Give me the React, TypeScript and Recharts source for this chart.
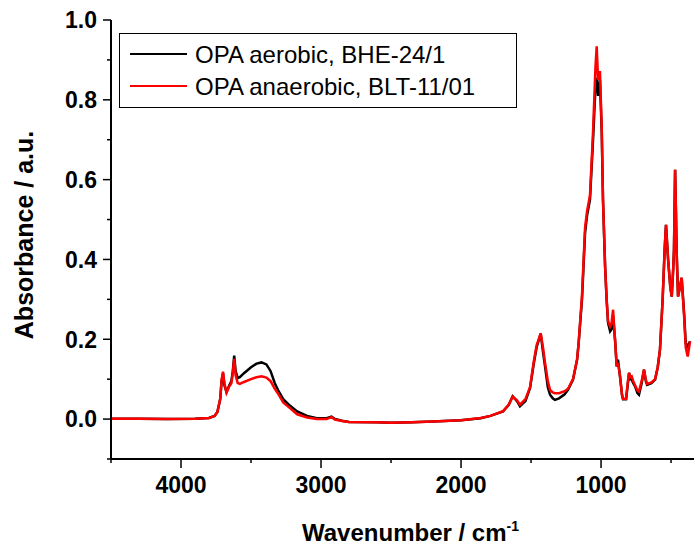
import React from 'react';
import { LineChart, Line, XAxis, YAxis, Legend } from 'recharts';

const wavenumbers = [
  4500, 4300, 4100, 3900, 3800, 3760, 3740, 3720, 3710, 3700, 3690, 3675, 3655, 3640, 3630, 3620, 3610, 3595, 3580,
  3550, 3500, 3460, 3425, 3390, 3360, 3330, 3300, 3270, 3230, 3170, 3100, 3030, 2960, 2925, 2900, 2850, 2800, 2600,
  2500, 2350, 2200, 2000, 1860, 1790, 1700, 1660, 1631, 1600, 1579, 1540, 1507, 1480, 1460, 1431, 1415, 1400, 1380,
  1364, 1345, 1329, 1300, 1260, 1236, 1200, 1171, 1160, 1136, 1114, 1100, 1079, 1057, 1040, 1031, 1021, 1008, 995,
  986, 971, 960, 950, 935, 925, 914, 905, 900, 888, 879, 864, 850, 843, 821, 808, 800, 790, 781, 770, 757, 740, 729,
  710, 693, 680, 671, 640, 614, 595, 579, 560, 545, 536, 521, 505, 495, 484, 479, 471, 465, 460, 450, 437, 424, 407,
  395, 381, 364,
];

const aerobic = [
  0.001, 0.001, 0.0, 0.001, 0.003, 0.008, 0.018, 0.05, 0.095, 0.115, 0.085, 0.068, 0.085, 0.095, 0.12, 0.159, 0.12, 0.103, 0.105,
  0.115, 0.13, 0.139, 0.142, 0.137, 0.12, 0.09, 0.068, 0.05, 0.036, 0.019, 0.008, 0.002, 0.002, 0.006, 0.0, -0.004, -0.007, -0.008,
  -0.009, -0.008, -0.006, -0.003, 0.002, 0.008, 0.019, 0.035, 0.057, 0.045, 0.032, 0.045, 0.078, 0.14, 0.18, 0.214, 0.17, 0.132, 0.08,
  0.061, 0.052, 0.048, 0.052, 0.062, 0.073, 0.099, 0.149, 0.19, 0.3, 0.467, 0.51, 0.55, 0.7, 0.83, 0.855, 0.81, 0.85, 0.72,
  0.55, 0.383, 0.3, 0.241, 0.22, 0.225, 0.26, 0.22, 0.199, 0.132, 0.149, 0.105, 0.06, 0.05, 0.05, 0.09, 0.116, 0.1, 0.099, 0.09, 0.082, 0.065, 0.061,
  0.09, 0.124, 0.095, 0.086, 0.09, 0.099, 0.13, 0.174, 0.3, 0.43, 0.487, 0.4, 0.33, 0.307, 0.38, 0.424, 0.625, 0.52, 0.42, 0.307, 0.33, 0.354, 0.266,
  0.19, 0.182, 0.195,
];

const anaerobic = [
  0.001, 0.001, 0.0, 0.001, 0.003, 0.008, 0.018, 0.05, 0.098, 0.119, 0.09, 0.066, 0.082, 0.09, 0.115, 0.151, 0.11, 0.09, 0.088,
  0.093, 0.1, 0.105, 0.107, 0.104, 0.095, 0.076, 0.06, 0.042, 0.03, 0.012, 0.004, 0.0, 0.0, 0.005, -0.001, -0.005, -0.007, -0.008,
  -0.009, -0.008, -0.006, -0.003, 0.003, 0.008, 0.02, 0.036, 0.056, 0.047, 0.036, 0.05, 0.08, 0.145, 0.185, 0.215, 0.18, 0.141, 0.095,
  0.073, 0.067, 0.065, 0.065, 0.07, 0.076, 0.1, 0.15, 0.19, 0.31, 0.48, 0.52, 0.56, 0.72, 0.88, 0.934, 0.85, 0.872, 0.73,
  0.55, 0.383, 0.3, 0.245, 0.232, 0.24, 0.274, 0.225, 0.199, 0.132, 0.141, 0.107, 0.06, 0.051, 0.051, 0.095, 0.116, 0.105, 0.107, 0.095, 0.085, 0.072, 0.069,
  0.095, 0.124, 0.098, 0.088, 0.092, 0.1, 0.13, 0.174, 0.3, 0.43, 0.487, 0.4, 0.33, 0.307, 0.38, 0.424, 0.625, 0.52, 0.42, 0.307, 0.33, 0.354, 0.26,
  0.18, 0.157, 0.195,
];

const seriesNames = ['OPA aerobic, BHE-24/1', 'OPA anaerobic, BLT-11/01'];
const seriesColors = ['#000000', '#ff0000'];
const xTicks = [4500, 4000, 3500, 3000, 2500, 2000, 1500, 1000, 500];
const yTicks = [-0.1, 0, 0.1, 0.2, 0.3, 0.4, 0.5, 0.6, 0.7, 0.8, 0.9, 1.0];
const xTitle = 'Wavenumber / cm';
const xTitleSup = '-1';
const yTitle = 'Absorbance / a.u.';

const data = wavenumbers.map((w, i) => ({ w, aerobic: aerobic[i], anaerobic: anaerobic[i] }));

const FONT = '"Liberation Sans", Arial, sans-serif';

const YTick = (props: any) => {
  const { x, y, payload } = props;
  const v = payload.value;
  const major = Math.round(v * 10) % 2 === 0;
  return (
    <g>
      <line x1={x} x2={x - (major ? 8 : 4)} y1={y} y2={y} stroke="#000" strokeWidth={1.5} />
      {major && (
        <text x={x - 14} y={y} dy="0.36em" textAnchor="end" fontSize={23} fontWeight="bold" fontFamily={FONT} fill="#000">
          {v.toFixed(1)}
        </text>
      )}
    </g>
  );
};

const XTick = (props: any) => {
  const { x, y, payload } = props;
  const v = payload.value;
  const major = v % 1000 === 0;
  return (
    <g>
      <line x1={x} x2={x} y1={y} y2={y + (major ? 9 : 4)} stroke="#000" strokeWidth={1.5} />
      {major && (
        <text x={x} y={y + 34} textAnchor="middle" fontSize={23} fontWeight="bold" fontFamily={FONT} fill="#000">
          {v}
        </text>
      )}
    </g>
  );
};

const TopTick = (props: any) => {
  const { x, y } = props;
  return <line x1={x} x2={x} y1={y} y2={y + 3} stroke="#000" strokeWidth={1} />;
};

const renderLegend = (props: any) => {
  const payload = props.payload || [];
  return (
    <svg width={398} height={75} style={{ display: 'block' }}>
      <rect x={0.5} y={0.5} width={397} height={74} fill="#fff" stroke="#000" strokeWidth={1} />
      {payload.map((p: any, i: number) => (
        <g key={i}>
          <line x1={11} x2={68} y1={21 + i * 32} y2={21 + i * 32} stroke={p.color} strokeWidth={2} />
          <text x={76} y={21 + i * 32} dy="0.36em" fontSize={24} fontFamily={FONT} fill="#000">
            {p.value}
          </text>
        </g>
      ))}
    </svg>
  );
};

export default function App() {
  return (
    <div style={{ position: 'absolute', left: 0, top: 0, width: 694, height: 545, background: '#fff' }}>
      <LineChart width={694} height={545} data={data} margin={{ top: 20, right: 0, bottom: 0, left: 0 }}>
        <XAxis
          dataKey="w"
          type="number"
          domain={[336, 4500]}
          reversed
          allowDataOverflow
          ticks={xTicks}
          interval={0}
          height={86}
          tickSize={0}
          tickMargin={0}
          tickLine={false}
          tick={XTick}
          axisLine={{ stroke: '#000', strokeWidth: 2 }}
          label={{
            content: () => (
              <text x={302} y={541} fontSize={24} fontWeight="bold" fontFamily={FONT} fill="#000">
                <tspan>{xTitle}</tspan>
                <tspan dy={-10} fontSize={14}>{xTitleSup}</tspan>
              </text>
            ),
          }}
        />
        <XAxis
          xAxisId="top"
          orientation="top"
          dataKey="w"
          type="number"
          domain={[336, 4500]}
          reversed
          allowDataOverflow
          ticks={xTicks}
          interval={0}
          height={0}
          tickSize={0}
          tickMargin={0}
          tickLine={false}
          tick={TopTick}
          axisLine={{ stroke: '#000', strokeWidth: 2 }}
        />
        <YAxis
          type="number"
          domain={[-0.1, 1.0]}
          allowDataOverflow
          ticks={yTicks}
          interval={0}
          width={111}
          tickSize={0}
          tickMargin={0}
          tickLine={false}
          tick={YTick}
          axisLine={{ stroke: '#000', strokeWidth: 2 }}
          label={{
            content: () => (
              <text
                x={33}
                y={235}
                transform="rotate(-90, 33, 235)"
                textAnchor="middle"
                fontSize={25}
                fontWeight="bold"
                fontFamily={FONT}
                fill="#000"
              >
                {yTitle}
              </text>
            ),
          }}
        />
        <Legend
          layout="vertical"
          verticalAlign="middle"
          align="center"
          content={renderLegend}
          wrapperStyle={{ position: 'absolute', left: 119, top: 33, width: 398, height: 75 }}
        />
        <Line
          type="linear"
          dataKey="aerobic"
          name={seriesNames[0]}
          stroke={seriesColors[0]}
          strokeWidth={2.5}
          dot={false}
          activeDot={false}
          isAnimationActive={false}
        />
        <Line
          type="linear"
          dataKey="anaerobic"
          name={seriesNames[1]}
          stroke={seriesColors[1]}
          strokeWidth={2.5}
          dot={false}
          activeDot={false}
          isAnimationActive={false}
        />
      </LineChart>
    </div>
  );
}
